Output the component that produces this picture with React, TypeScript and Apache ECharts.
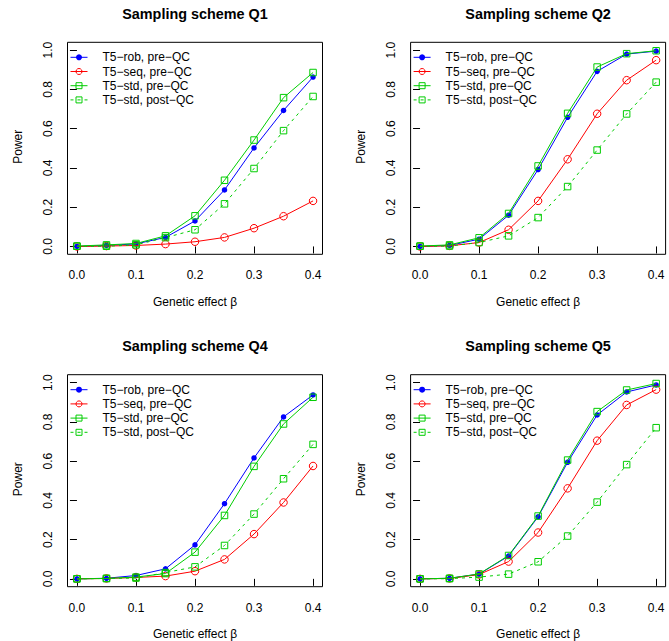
import React, { useEffect, useRef } from "react";
import * as echarts from "echarts";

const beta = [0, 0.05, 0.1, 0.15, 0.2, 0.25, 0.3, 0.35, 0.4];
const xTicks = [0, 0.1, 0.2, 0.3, 0.4];
const yTicks = [0, 0.2, 0.4, 0.6, 0.8, 1.0];

const seriesNames = ["T5\u2212rob, pre\u2212QC", "T5\u2212seq, pre\u2212QC", "T5\u2212std, pre\u2212QC", "T5\u2212std, post\u2212QC"];
const panelTitles = ["Sampling scheme Q1", "Sampling scheme Q2", "Sampling scheme Q4", "Sampling scheme Q5"];
const xLabel = "Genetic effect \u03b2";
const yLabel = "Power";

// Q1
const q1Rob = [0, 0.005, 0.013, 0.046, 0.130, 0.288, 0.502, 0.693, 0.863];
const q1Seq = [0, 0.002, 0.005, 0.012, 0.024, 0.046, 0.093, 0.154, 0.232];
const q1Std = [0.002, 0.008, 0.015, 0.054, 0.156, 0.337, 0.542, 0.758, 0.886];
const q1Post = [0.001, 0.001, 0.008, 0.045, 0.085, 0.217, 0.397, 0.590, 0.764];
// Q2
const q2Rob = [0, 0.005, 0.037, 0.159, 0.392, 0.658, 0.892, 0.980, 0.995];
const q2Seq = [0, 0.003, 0.020, 0.085, 0.232, 0.444, 0.676, 0.847, 0.949];
const q2Std = [0.002, 0.008, 0.044, 0.168, 0.410, 0.678, 0.914, 0.982, 0.997];
const q2Post = [0.001, 0.002, 0.020, 0.054, 0.147, 0.305, 0.491, 0.675, 0.837];
// Q4
const q4Rob = [0, 0.003, 0.017, 0.051, 0.173, 0.383, 0.616, 0.825, 0.937];
const q4Seq = [0, 0.002, 0.007, 0.014, 0.039, 0.099, 0.228, 0.389, 0.575];
const q4Std = [0, 0.002, 0.009, 0.027, 0.136, 0.323, 0.573, 0.789, 0.925];
const q4Post = [0, 0.002, 0.004, 0.032, 0.061, 0.170, 0.330, 0.510, 0.685];
// Q5
const q5Rob = [0, 0.003, 0.024, 0.116, 0.316, 0.594, 0.835, 0.952, 0.988];
const q5Seq = [0, 0.002, 0.022, 0.088, 0.236, 0.461, 0.704, 0.886, 0.964];
const q5Std = [0, 0.003, 0.025, 0.119, 0.320, 0.605, 0.852, 0.962, 0.995];
const q5Post = [0, 0.001, 0.009, 0.024, 0.087, 0.218, 0.391, 0.582, 0.770];

const panelData = [
  [q1Rob, q1Seq, q1Std, q1Post],
  [q2Rob, q2Seq, q2Std, q2Post],
  [q4Rob, q4Seq, q4Std, q4Post],
  [q5Rob, q5Seq, q5Std, q5Post],
];

const FONT = "'Liberation Sans', Arial, Helvetica, sans-serif";
const BLUE = "#0000FF";
const RED = "#FF0000";
const GREEN = "#00CD00";

const gridPos = [
  { left: 67.5, top: 42.3 },
  { left: 410.6, top: 42.3 },
  { left: 67.5, top: 374.7 },
  { left: 410.6, top: 374.7 },
];
const GW = 255;
const GH = 212;

export default function App() {
  const ref = useRef<HTMLDivElement>(null);
  useEffect(() => {
    if (!ref.current) return;
    const chart = echarts.init(ref.current, null, { renderer: "svg" });

    const grids: any[] = [];
    const xAxes: any[] = [];
    const yAxes: any[] = [];
    const series: any[] = [];
    const legends: any[] = [];
    const graphics: any[] = [];

    gridPos.forEach((g, i) => {
      grids.push({
        left: g.left,
        top: g.top,
        width: GW,
        height: GH,
        show: true,
        borderColor: "#000",
        borderWidth: 1,
        backgroundColor: "transparent",
        containLabel: false,
        outerBoundsMode: "none",
      });
      xAxes.push({
        type: "value",
        gridIndex: i,
        min: -0.016,
        max: 0.416,
        axisLine: { show: false },
        splitLine: { show: false },
        axisTick: { show: true, inside: false, length: 7, customValues: xTicks, lineStyle: { color: "#000", width: 1 } },
        axisLabel: {
          customValues: xTicks,
          formatter: (v: number) => v.toFixed(1),
          margin: 15,
          fontSize: 12,
          fontFamily: FONT,
          color: "#000",
        },
      });
      yAxes.push({
        type: "value",
        gridIndex: i,
        min: -0.04,
        max: 1.04,
        axisLine: { show: false },
        splitLine: { show: false },
        axisTick: { show: true, inside: false, length: 7, customValues: yTicks, lineStyle: { color: "#000", width: 1 } },
        axisLabel: {
          customValues: yTicks,
          formatter: (v: number) => v.toFixed(1),
          rotate: 90,
          margin: 14,
          fontSize: 12,
          fontFamily: FONT,
          color: "#000",
        },
      });

      const [rob, seq, std, post] = panelData[i];
      const mk = (arr: number[]) => beta.map((b, k) => [b, arr[k]]);
      series.push({
        name: seriesNames[0],
        type: "line",
        xAxisIndex: i,
        yAxisIndex: i,
        data: mk(rob),
        symbol: "circle",
        symbolSize: 5.5,
        itemStyle: { color: BLUE, borderWidth: 0 },
        lineStyle: { color: BLUE, width: 1 },
        emphasis: { disabled: true },
        z: 2,
      });
      series.push({
        name: seriesNames[1],
        type: "line",
        xAxisIndex: i,
        yAxisIndex: i,
        data: mk(seq),
        symbol: "circle",
        symbolSize: 7.5,
        itemStyle: { color: "rgba(0,0,0,0)", borderColor: RED, borderWidth: 1 },
        lineStyle: { color: RED, width: 1 },
        emphasis: { disabled: true },
        z: 3,
      });
      series.push({
        name: seriesNames[2],
        type: "line",
        xAxisIndex: i,
        yAxisIndex: i,
        data: mk(std),
        symbol: "rect",
        symbolSize: 6.5,
        itemStyle: { color: "rgba(0,0,0,0)", borderColor: GREEN, borderWidth: 1 },
        lineStyle: { color: GREEN, width: 1 },
        emphasis: { disabled: true },
        z: 4,
      });
      series.push({
        name: seriesNames[3],
        type: "line",
        xAxisIndex: i,
        yAxisIndex: i,
        data: mk(post),
        symbol: "rect",
        symbolSize: 6.5,
        itemStyle: { color: "rgba(0,0,0,0)", borderColor: GREEN, borderWidth: 1 },
        lineStyle: { color: GREEN, width: 1, type: [3, 4] },
        emphasis: { disabled: true },
        z: 5,
      });

      legends.push({
        orient: "vertical",
        left: g.left + 2.5,
        top: g.top + 8,
        padding: 0,
        itemWidth: 17,
        itemHeight: 7.5,
        itemGap: 0.2,
        selectedMode: false,
        data: seriesNames,
        itemStyle: { borderWidth: 1 },
        lineStyle: { width: 1 },
        textStyle: {
          fontSize: 12,
          fontFamily: FONT,
          color: "#000",
          lineHeight: 14,
          padding: [0, 0, 0, 10],
        },
      });

      const cx = g.left + GW / 2;
      graphics.push({
        type: "text",
        x: cx,
        y: g.top - 28.3,
        style: {
          text: panelTitles[i],
          align: "center",
          verticalAlign: "middle",
          fontSize: 14.4,
          fontWeight: "bold",
          fontFamily: FONT,
          fill: "#000",
        },
      });
      graphics.push({
        type: "text",
        x: cx,
        y: g.top + 259.5,
        style: {
          text: xLabel,
          align: "center",
          verticalAlign: "middle",
          fontSize: 12,
          fontFamily: FONT,
          fill: "#000",
        },
      });
      graphics.push({
        type: "text",
        x: g.left - 49.3,
        y: g.top + 104.5,
        rotation: Math.PI / 2,
        style: {
          text: yLabel,
          align: "center",
          verticalAlign: "middle",
          fontSize: 12,
          fontFamily: FONT,
          fill: "#000",
        },
      });
    });

    chart.setOption({
      animation: false,
      backgroundColor: "#fff",
      grid: grids,
      xAxis: xAxes,
      yAxis: yAxes,
      legend: legends,
      series,
      graphic: graphics,
    });
    return () => chart.dispose();
  }, []);

  return (
    <div
      ref={ref}
      style={{ position: "fixed", left: 0, top: 0, width: 669, height: 641, background: "#fff" }}
    />
  );
}
